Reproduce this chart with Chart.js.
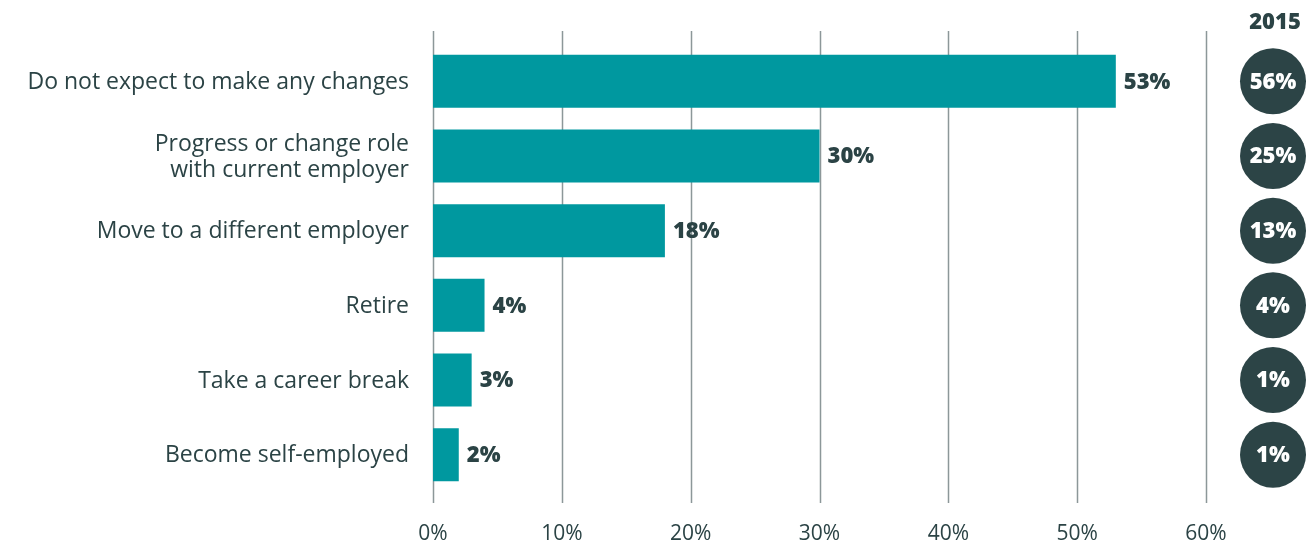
<!DOCTYPE html>
<html>
<head>
<meta charset="utf-8">
<script src="https://cdn.jsdelivr.net/npm/chart.js@4"></script>
<style>
  html, body { margin: 0; padding: 0; background: #fff; }
  #wrap { width: 1306px; height: 544px; position: relative; }
</style>
</head>
<body>
<div id="wrap"><canvas id="myChart"></canvas></div>
<script>
var categories = [
  "Do not expect to make any changes",
  ["Progress or change role", "with current employer"],
  "Move to a different employer",
  "Retire",
  "Take a career break",
  "Become self-employed"
];
var values2017 = [53, 30, 18, 4, 3, 2];
var values2015 = [56, 25, 13, 4, 1, 1];
var compareLabel = "2015";
var xTicks = [0, 10, 20, 30, 40, 50, 60];

var barColor = "#00989f";
var darkText = "#2b4345";
var gridColor = "#8c9799";
var fontName = "'Open Sans', Lato, sans-serif";

// grid lines drawn a bit taller than the plot area
const gridPlugin = {
  id: "tallGrid",
  beforeDatasetsDraw(chart) {
    const ctx = chart.ctx;
    const xs = chart.scales.x;
    const area = chart.chartArea;
    ctx.save();
    ctx.strokeStyle = gridColor;
    ctx.lineWidth = 1.5;
    xTicks.forEach(function (t) {
      const x = Math.round(xs.getPixelForValue(t)) + 0.5;
      ctx.beginPath();
      ctx.moveTo(x, area.top - 13);
      ctx.lineTo(x, area.bottom + 11);
      ctx.stroke();
    });
    ctx.restore();
  }
};

const labelPlugin = {
  id: "valueLabels",
  afterDatasetsDraw(chart) {
    const ctx = chart.ctx;
    const meta = chart.getDatasetMeta(0);
    const ys = chart.scales.y;
    const area = chart.chartArea;
    ctx.save();
    ctx.font = "800 22px " + fontName;
    ctx.fillStyle = darkText;
    ctx.textBaseline = "middle";
    ctx.textAlign = "left";
    meta.data.forEach(function (bar, i) {
      ctx.fillText(values2017[i] + "%", bar.x + 8, bar.y + 1);
    });

    // 2015 comparison circles
    const cx = area.right + 67;
    ctx.textAlign = "center";
    ctx.fillText(compareLabel, cx + 2, 23);
    values2015.forEach(function (v, i) {
      const y = ys.getPixelForValue(i);
      ctx.beginPath();
      ctx.arc(cx, y, 33, 0, Math.PI * 2);
      ctx.fillStyle = "#2c4446";
      ctx.fill();
      ctx.fillStyle = "#ffffff";
      ctx.fillText(v + "%", cx, y + 1);
    });
    ctx.restore();
  }
};

new Chart("myChart", {
  type: "bar",
  data: {
    labels: categories,
    datasets: [
      {
        data: values2017,
        backgroundColor: barColor,
        categoryPercentage: 1,
        barPercentage: 0.71
      }
    ]
  },
  options: {
    indexAxis: "y",
    responsive: true,
    maintainAspectRatio: false,
    animation: false,
    layout: { padding: { top: 44, right: 100, left: 0, bottom: 0 } },
    plugins: {
      legend: { display: false },
      tooltip: { enabled: false }
    },
    scales: {
      x: {
        min: 0,
        max: 60,
        afterBuildTicks: function (scale) {
          scale.ticks = xTicks.map(function (v) { return { value: v }; });
        },
        afterFit: function (scale) { scale.height = 52; },
        grid: { display: false },
        border: { display: false },
        ticks: {
          padding: 21,
          color: darkText,
          font: { family: fontName, size: 21 },
          callback: function (v) { return v + "%"; }
        }
      },
      y: {
        afterFit: function (scale) { scale.width = 433; },
        grid: { display: false },
        border: { display: false },
        ticks: {
          padding: 16,
          color: darkText,
          font: { family: fontName, size: 23, lineHeight: 1.13 },
          labelOffset: 1
        }
      }
    }
  },
  plugins: [gridPlugin, labelPlugin]
});
</script>
</body>
</html>
